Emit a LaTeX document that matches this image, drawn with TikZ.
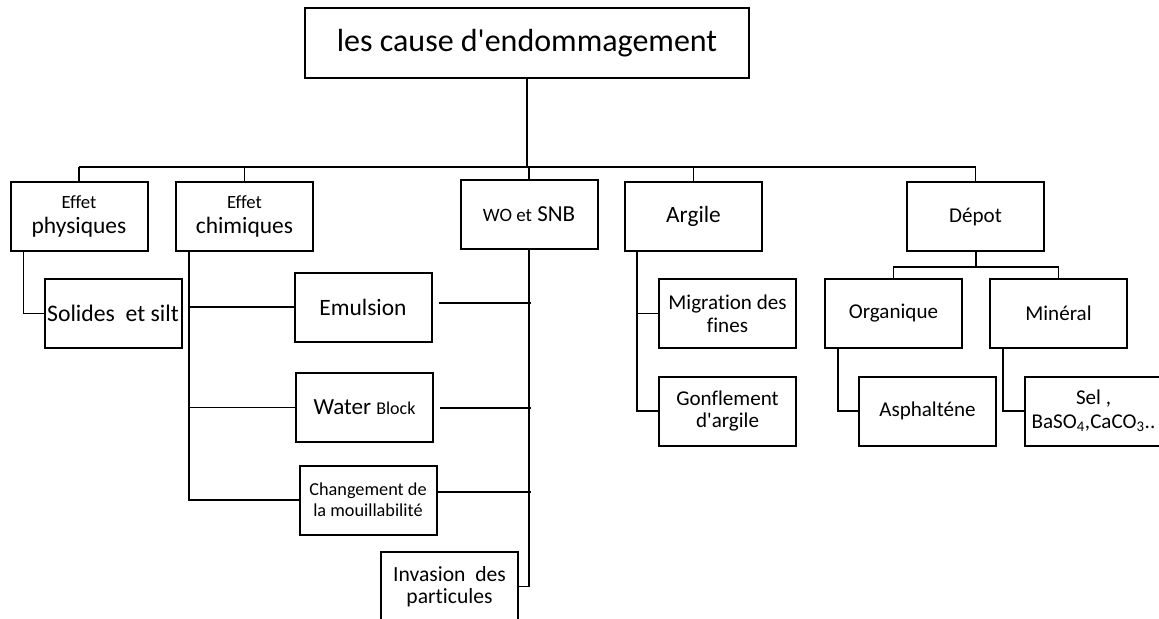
\documentclass[tikz,border=0pt]{standalone}
\usepackage{fontspec}
\setmainfont{Carlito}[Ligatures=NoCommon]
\usetikzlibrary{calc,positioning}
\newcommand{\taille}[2]{\fontsize{#1}{#2}\selectfont}

\begin{document}
\begin{tikzpicture}[x=0.75pt,y=-0.75pt,
    boite/.style={draw, line width=1.5pt, minimum width=102.75pt, minimum height=51.75pt,
      align=center, inner sep=1pt, font=\taille{15.8}{17}},
    lien/.style={line width=1pt},
    gras/.style={line width=1.5pt}]
  \path[use as bounding box, fill=white] (0,0) rectangle (1159,618);
  \node[boite, minimum width=333pt, minimum height=52.5pt, font=\taille{24}{28}] (cause) at (527,43) {les cause d\textquotesingle endommagement};
  \node[boite, font=\taille{17.6}{18.75}] (phys) at (79,216.5) {{\taille{14}{17}Effet}\\physiques};
  \node[boite, font=\taille{17.6}{18.75}] (chim) at (244.5,216.5) {{\taille{14}{17}Effet}\\chimiques};
  \node[boite, font=\taille{17.2}{20}] (wosnb) at (529,214.5) {{\taille{14.2}{17}WO et} SNB};
  \node[boite, font=\taille{17.5}{20}] (argile) at (693.5,216.5) {Argile};
  \node[boite] (depot) at (975.5,216.5) {Dépot};
  \node[boite, font=\taille{17.8}{20}] (solides) at (113,313.5) {Solides~ et silt};
  \node[boite, font=\taille{17.6}{20}] (emulsion) at (363,307) {Emulsion};
  \node[boite, font=\taille{17.3}{20}] (water) at (364.5,407.5) {Water {\taille{13.5}{16}Block}};
  \node[boite, font=\taille{13.7}{15.75}] (mouill) at (368,500) {Changement de\\la mouillabilité};
  \node[boite, font=\taille{16.2}{16.5}] (invasion) at (449.5,586.5) {Invasion~ des\\particules};
  \node[boite] (migration) at (727.5,313.5) {Migration des\\fines};
  \node[boite] (gonflement) at (727.5,411) {Gonflement\\d\textquotesingle argile};
  \node[boite] (organique) at (893.5,313.5) {Organique};
  \node[boite] (mineral) at (1058.5,313.5) {Minéral};
  \node[boite] (asphaltene) at (927.5,411) {Asphalténe};
  \node[boite, font=\taille{15.8}{18}] (sel) at (1093.5,411) {Sel ,\\BaSO\textsubscript{4},CaCO\textsubscript{3}..};

  \coordinate (bus) at (528,167);
  \draw[gras] (cause.south) -- (cause.south |- bus);
  \draw[lien] (phys.north |- bus) -- (depot.north |- bus);
  \foreach \n in {phys,chim,wosnb,argile,depot}
    \draw[lien] (\n.north) -- (\n.north |- bus);

  \draw[lien] ([xshift=10.5pt]phys.south west) |- (solides.west);

  \coordinate (c1) at ([xshift=10.5pt]chim.south west);
  \draw[lien] (c1) |- (mouill.west);
  \draw[lien] (emulsion.west) -- (emulsion.west -| c1);
  \draw[lien] (water.west) -- (water.west -| c1);

  \draw[lien] (wosnb.south) |- (invasion.east);
  \draw[gras] ([xshift=4.5pt,yshift=3pt]emulsion.east) -- ([xshift=1.5pt,yshift=3pt]emulsion.east -| wosnb.south);
  \draw[gras] ([xshift=4.5pt]water.east) -- ([xshift=1.5pt]water.east -| wosnb.south);
  \draw[gras] ([yshift=6pt]mouill.east) -- ([xshift=1.5pt,yshift=6pt]mouill.east -| wosnb.south);

  \coordinate (a1) at ([xshift=9.75pt]argile.south west);
  \draw[lien] (a1) |- (gonflement.west);
  \draw[lien] (migration.west) -- (migration.west -| a1);

  \coordinate (d1) at ([yshift=-11.25pt]depot.south);
  \draw[gras] (depot.south) -- (d1);
  \draw[lien] (organique.north) |- (d1) -| (mineral.north);
  \draw[lien] ([xshift=10.5pt]organique.south west) |- (asphaltene.west);
  \draw[lien] ([xshift=10.5pt]mineral.south west) |- (sel.west);
\end{tikzpicture}
\end{document}
